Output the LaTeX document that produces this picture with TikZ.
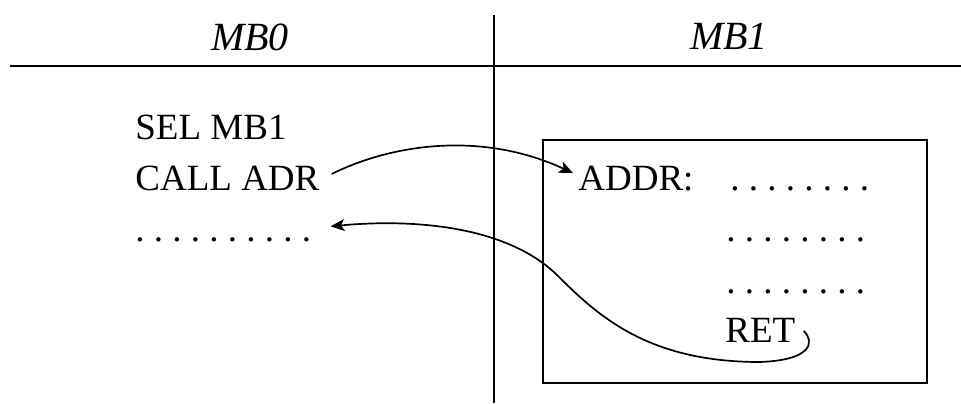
\documentclass[tikz,border=0pt]{standalone}
\usepackage{fontspec}
\setmainfont{Liberation Serif}
\usepackage{tikz}
\usetikzlibrary{arrows.meta}

\begin{document}
\begin{tikzpicture}[x=0.5pt,y=-0.5pt,
    code/.style={anchor=base west,inner sep=0pt,font=\fontsize{18.5}{22}\selectfont\frenchspacing},
    bank/.style={anchor=base,inner sep=0pt,font=\fontsize{20}{24}\selectfont\itshape},
    rule/.style={line width=1pt},
    arrow/.style={-{Stealth[length=7pt,width=6pt,inset=1.8pt]},line width=0.85pt}
]
\useasboundingbox (0,0) rectangle (961,403);
% bank headers and dividers
\draw[rule] (10,66) -- (961,66);
\draw[rule] (494,15) -- (494,403);
\node[bank] (mb0) at (250,50) {MB0};
\node[bank] (mb1) at (729,49) {MB1};
% bank 0
\node[code] (sel) at (135,139) {SEL MB1};
\node[code] (call) at (135,190) {CALL ADR};
\node[code] (dl) at (135,241) {. . . . . . . . . .};
% bank 1 subroutine
\draw[line width=0.8pt] (543,140) rectangle (927,383);
\node[code] (addr) at (578,190) {ADDR:};
\node[code] (d1) at (730,190) {. . . . . . . .};
\node[code] (d2) at (726,241) {. . . . . . . .};
\node[code] (d3) at (726,293) {. . . . . . . .};
\node[code] (ret) at (725,342) {RET};
% call and return
\draw[arrow] ([xshift=6pt,yshift=2pt]call.east) .. controls (390,145) and (480,130) .. ([xshift=-2.5pt,yshift=2.5pt]addr.west);
\draw[arrow] ([xshift=4pt,yshift=-0.5pt]ret.east) .. controls (815,342) and (812,360) .. (760,362)
    .. controls (650,362) and (600,318) .. (558,276)
    .. controls (510,228) and (420,218) .. ([xshift=9.5pt,yshift=6.5pt]dl.east);
\end{tikzpicture}
\end{document}
